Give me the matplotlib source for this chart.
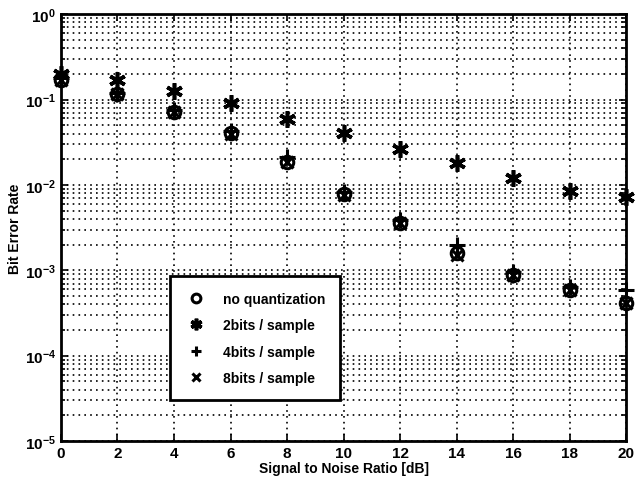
import numpy as np
import matplotlib.pyplot as plt

plt.rcParams['font.family'] = ['Liberation Sans', 'DejaVu Sans']
plt.rcParams['font.weight'] = 'bold'
plt.rcParams['mathtext.fontset'] = 'custom'
plt.rcParams['mathtext.rm'] = 'Liberation Sans:bold'
plt.rcParams['mathtext.default'] = 'rm'

# BER vs SNR for different ADC resolutions
snr_db = [0, 2, 4, 6, 8, 10, 12, 14, 16, 18, 20]
ber_noquant = [0.17, 0.115, 0.072, 0.041, 0.0185, 0.0078, 0.0036, 0.0016, 0.00088, 0.00058, 0.00041]
ber_2bits = [0.20, 0.17, 0.125, 0.090, 0.059, 0.0405, 0.0265, 0.018, 0.0122, 0.0086, 0.0073]
ber_4bits = [0.18, 0.12, 0.075, 0.043, 0.021, 0.0082, 0.0039, 0.0020, 0.00095, 0.00064, 0.00058]
ber_8bits = [0.17, 0.115, 0.071, 0.040, 0.0185, 0.0077, 0.0036, 0.0015, 0.00088, 0.00058, 0.00041]

fig = plt.figure(figsize=(6.35, 4.89), dpi=100)
ax = fig.add_axes([0.096, 0.096, 0.89, 0.873])

kw = dict(linestyle='none', color='black', clip_on=False)
ax.semilogy(snr_db, ber_noquant, marker='o', markerfacecolor='none',
            markersize=9, markeredgewidth=2.2, label='no quantization', **kw)
ax.semilogy(snr_db, ber_2bits, marker=(6, 2, 0), markersize=12,
            markeredgewidth=2.6, label='2bits / sample', **kw)
ax.semilogy(snr_db, ber_4bits, marker='+', markersize=11,
            markeredgewidth=2.2, label='4bits / sample', **kw)
ax.semilogy(snr_db, ber_8bits, marker='x', markersize=9,
            markeredgewidth=2.2, label='8bits / sample', **kw)

ax.set_xlim(0, 20)
ax.set_ylim(1e-5, 1)
ax.set_xticks(range(0, 21, 2))
grid_style = dict(color='black', linestyle=(0, (1, 2.5)), linewidth=1.2)
ax.grid(True, which='major', axis='both', **grid_style)
ax.grid(True, which='minor', axis='y', **grid_style)
ax.tick_params(which='both', direction='in', top=True, right=True, labelsize=11,
               width=1.2)
ax.tick_params(which='minor', length=3)
ax.tick_params(which='major', length=5)
for s in ax.spines.values():
    s.set_linewidth(2.0)

ax.set_xlabel('Signal to Noise Ratio [dB]', fontsize=10, fontweight='bold', labelpad=1)
ax.set_ylabel('Bit Error Rate', fontsize=10, fontweight='bold', labelpad=2)

leg = ax.legend(loc='upper left', bbox_to_anchor=(0.193, 0.386), fontsize=10,
                fancybox=False, framealpha=1, edgecolor='black',
                borderpad=1.1, labelspacing=0.9, handletextpad=1.2,
                handlelength=1.5, borderaxespad=0, markerscale=0.7)
leg.get_frame().set_linewidth(2.0)

fig.savefig('out.png', dpi=100)
